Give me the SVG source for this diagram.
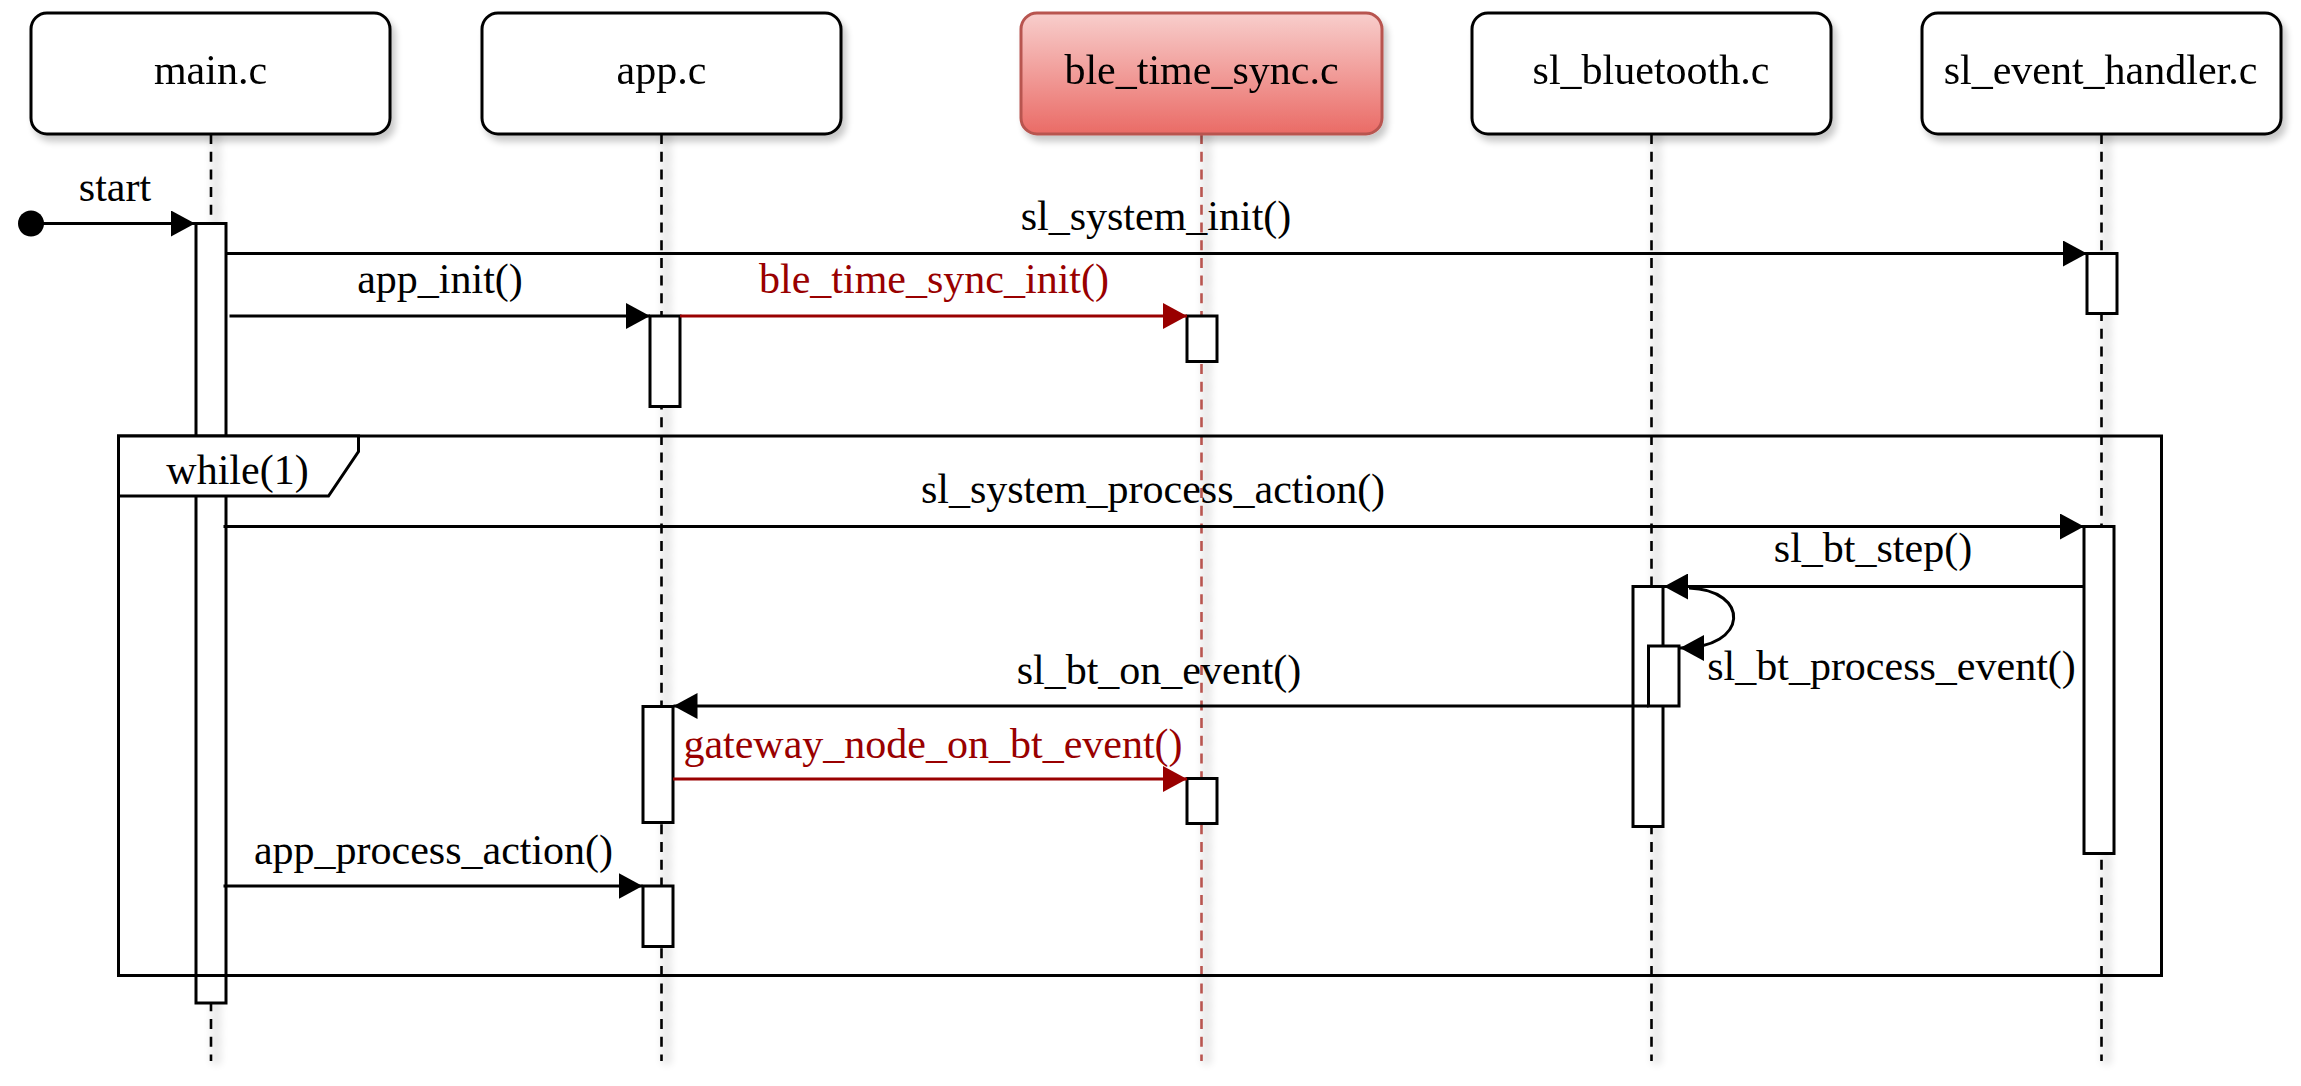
<svg xmlns="http://www.w3.org/2000/svg" width="2301" height="1086" viewBox="0 0 2301 1086">
<defs>
<style>
text{font-family:"Liberation Serif","Times New Roman",serif;font-size:42px;fill:#000;text-anchor:middle}
.red{fill:#990000}
.box{fill:#fff;stroke:#000;stroke-width:3}
.life{stroke:#000;stroke-width:2.6;stroke-dasharray:10 7.7;fill:none}
.lifer{stroke:#b85450;stroke-width:2.6;stroke-dasharray:10 7.7;fill:none}
.act{fill:#fff;stroke:#000;stroke-width:3}
.msg{stroke:#000;stroke-width:3;fill:none;marker-end:url(#ah)}
.msgr{stroke:#990000;stroke-width:3;fill:none;marker-end:url(#ahr)}
.frame{fill:none;stroke:#000;stroke-width:3}
</style>
<linearGradient id="redg" x1="0" y1="0" x2="0" y2="1">
<stop offset="0" stop-color="#f8cecc"/>
<stop offset="1" stop-color="#ea6b66"/>
</linearGradient>
<filter id="sh" filterUnits="userSpaceOnUse" x="0" y="0" width="2301" height="1086">
<feGaussianBlur in="SourceAlpha" stdDeviation="3.5"/>
<feOffset dx="4" dy="6" result="o"/>
<feComponentTransfer><feFuncA type="linear" slope="0.22"/></feComponentTransfer>
<feMerge><feMergeNode/><feMergeNode in="SourceGraphic"/></feMerge>
</filter>
<filter id="shl" filterUnits="userSpaceOnUse" x="0" y="0" width="2301" height="1086">
<feMorphology in="SourceAlpha" operator="dilate" radius="3" result="d"/>
<feGaussianBlur in="d" stdDeviation="4"/>
<feOffset dx="5" dy="0"/>
<feComponentTransfer><feFuncA type="linear" slope="0.12"/></feComponentTransfer>
<feMerge><feMergeNode/><feMergeNode in="SourceGraphic"/></feMerge>
</filter>
<marker id="ah" markerUnits="userSpaceOnUse" markerWidth="25" markerHeight="26" refX="24" refY="13" orient="auto" viewBox="0 0 25 26">
<path d="M0,0 L24,13 L0,26 z" fill="#000"/>
</marker>
<marker id="ahr" markerUnits="userSpaceOnUse" markerWidth="25" markerHeight="26" refX="24" refY="13" orient="auto" viewBox="0 0 25 26">
<path d="M0,0 L24,13 L0,26 z" fill="#990000"/>
</marker>
</defs>
<rect width="2301" height="1086" fill="#fff"/>

<g id="lifelines" filter="url(#shl)">
<line class="life" x1="211" y1="134" x2="211" y2="1061"/>
<line class="life" x1="661.5" y1="134" x2="661.5" y2="1061"/>
<line class="lifer" x1="1201.5" y1="134" x2="1201.5" y2="1061"/>
<line class="life" x1="1651.5" y1="134" x2="1651.5" y2="1061"/>
<line class="life" x1="2101.5" y1="134" x2="2101.5" y2="1061"/>
</g>

<g id="main" filter="url(#sh)">
<rect class="box" x="31" y="13" width="359" height="121" rx="16"/>
<text x="210.5" y="84">main.c</text>
</g>
<g id="app" filter="url(#sh)">
<rect class="box" x="482" y="13" width="359" height="121" rx="16"/>
<text x="661.5" y="84">app.c</text>
</g>
<g id="ble_time_sync" filter="url(#sh)">
<rect x="1021" y="13" width="361" height="121" rx="16" fill="url(#redg)" stroke="#b85450" stroke-width="3"/>
<text x="1201.5" y="84">ble_time_sync.c</text>
</g>
<g id="sl_bluetooth" filter="url(#sh)">
<rect class="box" x="1472" y="13" width="359" height="121" rx="16"/>
<text x="1651" y="84">sl_bluetooth.c</text>
</g>
<g id="sl_event_handler" filter="url(#sh)">
<rect class="box" x="1922" y="13" width="359" height="121" rx="16"/>
<text x="2100.5" y="84">sl_event_handler.c</text>
</g>

<g id="activations">
<rect class="act" x="196" y="223.5" width="30" height="779.5"/>
<rect class="act" x="650" y="316" width="30" height="90.5"/>
<rect class="act" x="1187" y="316" width="30" height="45.5"/>
<rect class="act" x="2087" y="253.5" width="30" height="60"/>
<rect class="act" x="2084" y="526.5" width="30" height="327"/>
<rect class="act" x="1633" y="586.5" width="30" height="240"/>
<rect class="act" x="1648.5" y="646" width="30.5" height="60"/>
<rect class="act" x="643" y="706.5" width="30" height="116"/>
<rect class="act" x="1187" y="778.5" width="30" height="45"/>
<rect class="act" x="643" y="886" width="30" height="60.5"/>
</g>

<g id="loop">
<rect class="frame" x="118.5" y="436" width="2043" height="539.5"/>
<path d="M118.5,436 L358.5,436 L358.5,451.5 L328.5,496 L118.5,496 Z" fill="#fff" stroke="#000" stroke-width="3"/>
<text x="237.5" y="484">while(1)</text>
</g>

<g id="connectors">
<circle cx="31" cy="223.5" r="13" fill="#000"/>
<line class="msg" x1="31" y1="223.5" x2="195" y2="223.5"/>
<line class="msg" x1="226.5" y1="253.5" x2="2087" y2="253.5"/>
<line class="msg" x1="229.5" y1="316" x2="650" y2="316"/>
<line class="msgr" x1="680" y1="316" x2="1187" y2="316"/>
<line class="msg" x1="223.5" y1="526.5" x2="2084" y2="526.5"/>
<line class="msg" x1="2084" y1="586.5" x2="1664" y2="586.5"/>
<path class="msg" d="M1689,588 C1750,590 1750,648 1680,648"/>
<line class="msg" x1="1648.5" y1="706" x2="673.5" y2="706"/>
<line class="msgr" x1="673" y1="779" x2="1187" y2="779"/>
<line class="msg" x1="223.5" y1="886" x2="642.5" y2="886"/>
</g>

<g id="labels">
<text x="115" y="201">start</text>
<text x="1156" y="230">sl_system_init()</text>
<text x="440" y="293">app_init()</text>
<text class="red" x="934" y="293">ble_time_sync_init()</text>
<text x="1153" y="503">sl_system_process_action()</text>
<text x="1873" y="562">sl_bt_step()</text>
<text x="1891.5" y="680">sl_bt_process_event()</text>
<text x="1159" y="683.5">sl_bt_on_event()</text>
<text class="red" x="933" y="758">gateway_node_on_bt_event()</text>
<text x="433.5" y="864">app_process_action()</text>
</g>
</svg>
